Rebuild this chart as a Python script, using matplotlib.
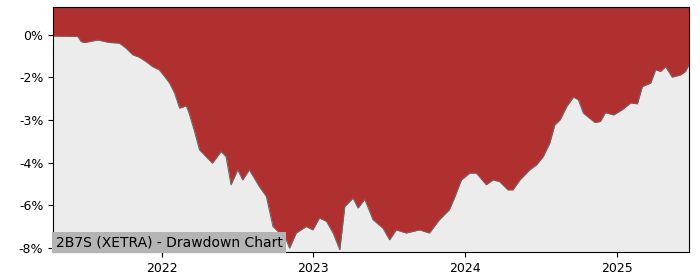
import matplotlib
matplotlib.use("Agg")
import matplotlib.pyplot as plt
import matplotlib.dates as mdates
import matplotlib.ticker as mticker
import numpy as np
import pandas as pd

dates = [
    "2021-04-14", "2021-06-13", "2021-06-21", "2021-06-29", "2021-07-31", "2021-08-28",
    "2021-09-21", "2021-10-07", "2021-10-23", "2021-11-08", "2021-11-24", "2021-12-10",
    "2021-12-26", "2022-01-08", "2022-01-20", "2022-02-01", "2022-02-13", "2022-03-01",
    "2022-03-08", "2022-03-20", "2022-04-02", "2022-05-03", "2022-05-24", "2022-06-05",
    "2022-06-17", "2022-07-03", "2022-07-15", "2022-07-31", "2022-08-24", "2022-09-10",
    "2022-09-26", "2022-10-12", "2022-10-28", "2022-11-05", "2022-11-21", "2022-12-15",
    "2022-12-31", "2023-01-16", "2023-02-02", "2023-02-18", "2023-03-06", "2023-03-18",
    "2023-04-07", "2023-04-19", "2023-05-05", "2023-05-25", "2023-06-18", "2023-07-04",
    "2023-07-20", "2023-08-13", "2023-09-14", "2023-10-08", "2023-11-01", "2023-11-25",
    "2023-12-07", "2023-12-24", "2024-01-13", "2024-01-29", "2024-02-22", "2024-03-09",
    "2024-03-25", "2024-04-14", "2024-04-26", "2024-05-13", "2024-06-06", "2024-06-22",
    "2024-07-08", "2024-07-24", "2024-08-05", "2024-08-18", "2024-09-03", "2024-09-19",
    "2024-10-01", "2024-10-13", "2024-11-10", "2024-11-23", "2024-12-05", "2024-12-25",
    "2025-01-14", "2025-02-04", "2025-02-20", "2025-03-04", "2025-03-24", "2025-04-05",
    "2025-04-17", "2025-04-29", "2025-05-15", "2025-06-04", "2025-06-16", "2025-06-24",
]
drawdown = [
    -0.04, -0.06, -0.24, -0.27, -0.18, -0.27,
    -0.29, -0.47, -0.70, -0.79, -0.94, -1.12,
    -1.23, -1.47, -1.70, -2.05, -2.58, -2.50,
    -2.76, -3.35, -4.05, -4.52, -4.11, -4.29,
    -5.28, -4.75, -5.11, -4.75, -5.34, -5.69,
    -6.75, -6.98, -7.22, -7.51, -6.98, -6.75,
    -6.87, -6.45, -6.57, -6.98, -7.57, -6.05,
    -5.75, -6.10, -5.79, -6.51, -6.81, -7.22,
    -6.87, -6.98, -6.87, -6.98, -6.51, -6.16,
    -5.75, -5.11, -4.87, -4.87, -5.28, -5.11,
    -5.17, -5.46, -5.46, -5.11, -4.75, -4.58,
    -4.29, -3.81, -3.17, -2.99, -2.52, -2.19,
    -2.29, -2.76, -3.09, -3.05, -2.74, -2.82,
    -2.64, -2.40, -2.43, -1.82, -1.70, -1.23,
    -1.29, -1.12, -1.49, -1.41, -1.29, -1.06,
]
title = "2B7S (XETRA) - Drawdown Chart"

x = pd.to_datetime(dates)
y = np.array(drawdown)

fig = plt.figure(figsize=(7, 2.8), dpi=100)
ax = fig.add_axes([0.0757, 0.1, 0.9083, 0.875])
ax.set_facecolor("#ececec")
ytop = 0.98
ax.fill_between(x, y, ytop, color="#b03030", linewidth=0)
ax.plot(x, y, color="#666666", linewidth=0.8)
ax.set_ylim(-7.65, ytop)
ax.set_xlim(x[0], x[-1])
ax.yaxis.set_major_locator(mticker.MultipleLocator(1.5))
ax.yaxis.set_major_formatter(mticker.FormatStrFormatter("%.0f%%"))
ax.xaxis.set_major_locator(mdates.YearLocator())
ax.xaxis.set_major_formatter(mdates.DateFormatter("%Y"))
ax.tick_params(labelsize=9)
ax.text(0.004, 0.012, title, transform=ax.transAxes, fontsize=10, ha="left", va="bottom",
        bbox=dict(facecolor="#b4b4b4", edgecolor="none", pad=2.5))
fig.savefig("out.png", dpi=100)
